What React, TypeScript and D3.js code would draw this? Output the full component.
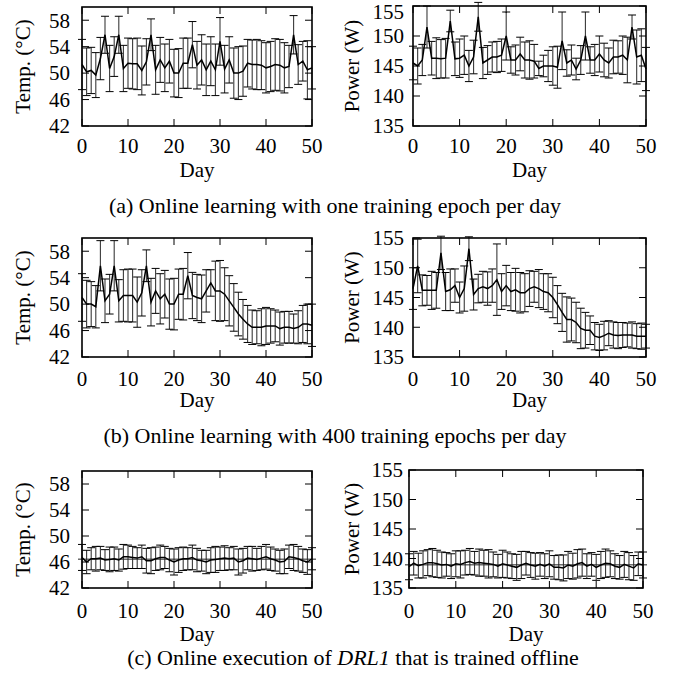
import { useEffect, useRef } from 'react';
import * as d3 from 'd3';

// tick labels
const tempTicks = [42, 46, 50, 54, 58];
const powerTicks = [135, 140, 145, 150, 155];
const dayTicks = [0, 10, 20, 30, 40, 50];

// (a) one training epoch per day, days 0..50
const aTempMean = [51.3, 50.2, 50.4, 49.7, 52.2, 55.8, 50.7, 52.5, 55.8, 50.7,
  51.5, 51.4, 51.4, 50.4, 51.7, 55.8, 50.5, 52.0, 50.8, 51.8,
  50.0, 50.0, 51.5, 51.5, 54.3, 51.2, 52.0, 50.5, 51.8, 50.5,
  54.8, 50.6, 52.0, 50.0, 50.0, 50.3, 51.5, 51.3, 51.3, 51.2,
  50.8, 51.0, 51.3, 51.2, 50.8, 51.0, 55.8, 51.3, 51.8, 50.5, 50.8];
const aTempErr = [3.8, 3.6, 3.5, 3.4, 3.2, 2.8, 3.5, 3.0, 2.8, 3.5,
  3.8, 3.8, 3.9, 3.7, 3.5, 2.4, 3.7, 3.4, 3.6, 3.3,
  3.6, 3.7, 3.8, 3.8, 3.5, 3.6, 3.8, 3.9, 3.7, 3.9,
  3.6, 3.6, 3.5, 3.8, 4.0, 3.8, 3.6, 3.7, 3.8, 3.7,
  3.8, 3.8, 3.9, 3.9, 3.8, 3.2, 2.9, 3.0, 3.0, 4.4, 3.2];
const aPowerMean = [145.5, 145.0, 146.0, 151.5, 146.3, 146.3, 146.2, 146.3, 152.5, 146.2,
  146.3, 146.8, 145.0, 146.5, 153.2, 145.5, 146.0, 146.5, 146.5, 146.8,
  150.0, 146.0, 146.0, 147.0, 146.0, 146.0, 145.8, 144.6, 145.0, 145.0,
  145.0, 144.8, 149.2, 145.5, 146.0, 144.5, 146.0, 150.0, 146.0, 146.0,
  147.0, 146.0, 145.5, 146.5, 146.5, 146.8, 146.0, 151.5, 146.5, 146.8, 144.5];
const aPowerErr = [2.8, 3.0, 2.6, 3.5, 2.8, 3.4, 3.2, 3.3, 1.8, 2.8,
  3.2, 3.2, 2.6, 2.8, 2.4, 2.6, 2.4, 2.5, 2.6, 2.7,
  4.0, 2.2, 2.5, 2.8, 3.0, 3.2, 2.8, 1.2, 1.8, 2.6,
  3.2, 3.5, 4.8, 2.2, 2.5, 1.8, 2.4, 4.0, 2.2, 2.6,
  3.0, 2.8, 2.5, 2.8, 2.7, 3.2, 3.8, 2.0, 4.5, 4.4, 3.6];

// (b) 400 training epochs per day
const bTempMean = [51.0, 50.0, 50.0, 49.6, 55.8, 50.5, 51.5, 55.8, 50.5, 51.3,
  51.3, 51.3, 50.3, 51.7, 55.8, 50.3, 52.0, 50.8, 51.5, 50.0,
  50.0, 51.5, 51.5, 54.3, 51.3, 51.0, 50.8, 52.0, 53.2, 52.0,
  52.0, 51.5, 50.5, 49.5, 48.5, 47.7, 47.0, 46.5, 46.5, 46.5,
  46.7, 46.7, 46.7, 46.3, 46.5, 46.5, 46.3, 46.5, 47.0, 47.0, 46.8];
const bTempErr = [3.6, 3.6, 3.4, 3.2, 3.8, 3.3, 3.0, 3.8, 3.2, 3.9,
  4.0, 4.0, 3.8, 3.5, 2.4, 3.6, 3.4, 3.8, 3.6, 3.8,
  3.9, 3.8, 3.9, 3.5, 3.5, 3.5, 3.6, 3.2, 2.0, 4.5,
  4.6, 4.0, 3.8, 3.6, 3.3, 3.0, 2.8, 2.6, 2.5, 2.8,
  2.8, 2.6, 2.4, 2.5, 2.4, 2.4, 2.2, 2.5, 2.8, 3.0, 3.2];
const bPowerMean = [146.5, 150.3, 146.2, 146.2, 146.2, 146.2, 152.5, 146.0, 146.3, 147.0,
  145.0, 146.5, 153.2, 145.5, 146.5, 146.8, 146.5, 147.0, 148.0, 146.0,
  147.0, 146.0, 146.3, 145.8, 145.8, 146.5, 146.8, 146.5, 146.0, 145.8,
  145.0, 143.8, 142.5, 141.3, 141.3, 140.8, 139.8, 139.5, 139.5, 138.5,
  138.3, 138.6, 139.0, 138.7, 138.6, 138.7, 138.7, 138.7, 138.5, 138.5, 138.5];
const bPowerErr = [3.5, 4.5, 2.6, 2.5, 3.2, 3.0, 2.8, 3.2, 3.5, 2.8,
  2.6, 3.8, 2.0, 2.6, 2.4, 2.6, 2.8, 2.8, 6.0, 3.0,
  3.4, 3.2, 3.6, 3.4, 3.2, 3.0, 2.6, 3.2, 3.0, 3.2,
  3.4, 3.2, 3.2, 3.8, 3.6, 3.4, 3.4, 3.0, 2.4, 2.3,
  2.2, 2.4, 2.1, 2.2, 2.2, 2.1, 2.0, 2.2, 2.1, 2.2, 2.0];

// (c) DRL1 trained offline
const cTempMean = [46.7, 46.0, 46.5, 46.5, 46.6, 46.3, 46.4, 46.5, 46.3, 46.8,
  46.8, 46.7, 46.6, 46.8, 46.2, 46.2, 46.5, 46.7, 46.7, 46.3,
  46.0, 46.3, 46.5, 46.5, 46.7, 46.3, 46.2, 46.0, 46.3, 46.4,
  46.5, 46.6, 46.5, 46.6, 46.0, 46.2, 46.6, 46.5, 46.4, 46.6,
  46.8, 46.5, 46.3, 46.0, 46.1, 46.8, 46.7, 46.5, 46.2, 46.0, 46.5];
const cTempErr = [2.0, 1.8, 1.7, 1.9, 1.8, 1.6, 1.9, 1.8, 1.7, 1.9,
  1.8, 1.7, 1.6, 1.8, 1.9, 2.0, 1.8, 1.9, 1.7, 1.8,
  2.0, 1.9, 1.8, 1.7, 1.9, 1.8, 1.6, 1.8, 1.9, 2.0,
  1.8, 1.9, 1.7, 1.8, 2.0, 1.9, 1.8, 1.9, 1.7, 1.8,
  1.9, 1.8, 1.7, 1.8, 1.9, 1.8, 2.0, 1.9, 1.8, 1.9, 1.7];
const cPowerMean = [138.6, 139.2, 138.8, 139.0, 139.3, 139.3, 139.1, 138.9, 139.0, 138.7,
  139.1, 139.0, 139.3, 139.5, 139.2, 139.3, 139.2, 139.1, 139.0, 138.7,
  139.1, 138.9, 138.7, 138.5, 138.9, 139.2, 138.9, 138.7, 139.0, 138.7,
  139.1, 138.5, 138.5, 138.4, 138.9, 138.7, 139.1, 139.3, 138.7, 139.0,
  138.5, 138.9, 139.2, 139.1, 138.7, 138.5, 139.0, 138.7, 138.4, 139.1, 138.9];
const cPowerErr = [2.2, 2.0, 2.1, 2.3, 2.2, 2.4, 2.3, 2.2, 2.0, 2.1,
  2.2, 2.3, 2.1, 2.2, 2.0, 2.3, 2.2, 2.4, 2.1, 2.0,
  2.3, 2.2, 2.1, 2.2, 2.3, 2.0, 2.1, 2.2, 2.0, 2.1,
  2.2, 2.0, 2.1, 2.2, 2.3, 2.2, 2.4, 2.3, 2.1, 2.0,
  2.2, 2.3, 2.4, 2.2, 2.1, 2.0, 2.2, 2.3, 2.1, 2.0, 2.2];

const captions = [
  { pre: '(a) Online learning with one training epoch per day', it: '', post: '', x: 335, y: 213 },
  { pre: '(b) Online learning with 400 training epochs per day', it: '', post: '', x: 335, y: 443 },
  { pre: '(c) Online execution of ', it: 'DRL1', post: ' that is trained offline', x: 353, y: 665 },
];

const panels = [
  { mean: aTempMean, err: aTempErr, domain: [42, 60], ticks: tempTicks, label: 'Temp. (°C)', box: [82, 312, 7, 126], labelX: 23, tickGap: 12, xTickY: 153, dayY: 177, ref: false },
  { mean: aPowerMean, err: aPowerErr, domain: [135, 155], ticks: powerTicks, label: 'Power (W)', box: [413, 646, 6, 126], labelX: 352, tickGap: 9, xTickY: 153, dayY: 177, ref: false },
  { mean: bTempMean, err: bTempErr, domain: [42, 60], ticks: tempTicks, label: 'Temp. (°C)', box: [82, 312, 238, 357], labelX: 23, tickGap: 12, xTickY: 386, dayY: 407, ref: false },
  { mean: bPowerMean, err: bPowerErr, domain: [135, 155], ticks: powerTicks, label: 'Power (W)', box: [413, 646, 238, 357], labelX: 352, tickGap: 9, xTickY: 386, dayY: 407, ref: false },
  { mean: cTempMean, err: cTempErr, domain: [42, 60], ticks: tempTicks, label: 'Temp. (°C)', box: [82, 312, 471, 588], labelX: 23, tickGap: 12, xTickY: 618, dayY: 641, ref: true },
  { mean: cPowerMean, err: cPowerErr, domain: [135, 155], ticks: powerTicks, label: 'Power (W)', box: [409, 643, 470, 588], labelX: 352, tickGap: 6, xTickY: 618, dayY: 641, ref: true },
];

const FONT = '"Liberation Serif", "DejaVu Serif", serif';

export default function App() {
  const ref = useRef<SVGSVGElement>(null);

  useEffect(() => {
    const svg = d3.select(ref.current);
    svg.selectAll('*').remove();

    panels.forEach(p => {
      const [left, right, top, bottom] = p.box;
      const x = d3.scaleLinear().domain([0, 50]).range([left, right]);
      const y = d3.scaleLinear().domain(p.domain).range([bottom, top]);
      const g = svg.append('g');

      // barras de error
      const bars = g.append('g');
      p.mean.forEach((m, i) => {
        const cx = x(i);
        const hi = y(m + p.err[i]);
        const lo = y(m - p.err[i]);
        bars.append('line').attr('x1', cx).attr('x2', cx).attr('y1', hi).attr('y2', lo)
          .attr('stroke', '#3a3a3a').attr('stroke-width', 1.1);
        bars.append('line').attr('x1', cx - 4).attr('x2', cx + 4).attr('y1', hi).attr('y2', hi)
          .attr('stroke', '#000').attr('stroke-width', 1);
        bars.append('line').attr('x1', cx - 4).attr('x2', cx + 4).attr('y1', lo).attr('y2', lo)
          .attr('stroke', '#000').attr('stroke-width', 1);
      });

      if (p.ref) {
        const avg = d3.mean(p.mean) as number;
        g.append('line').attr('x1', left - 4).attr('x2', right + 4)
          .attr('y1', y(avg)).attr('y2', y(avg)).attr('stroke', '#222').attr('stroke-width', 1);
      }

      // línea de la media
      const line = d3.line<number>().x((_, i) => x(i)).y(d => y(d));
      g.append('path').datum(p.mean).attr('d', line).attr('fill', 'none')
        .attr('stroke', '#000').attr('stroke-width', 1.5);

      // marco
      g.append('rect').attr('x', left).attr('y', top).attr('width', right - left).attr('height', bottom - top)
        .attr('fill', 'none').attr('stroke', '#000').attr('stroke-width', 1.6);

      // ticks
      const tk = 7;
      dayTicks.forEach(d => {
        g.append('line').attr('x1', x(d)).attr('x2', x(d)).attr('y1', bottom).attr('y2', bottom - tk).attr('stroke', '#000');
        g.append('line').attr('x1', x(d)).attr('x2', x(d)).attr('y1', top).attr('y2', top + tk).attr('stroke', '#000');
        g.append('text').attr('x', x(d)).attr('y', p.xTickY).attr('text-anchor', 'middle')
          .attr('font-family', FONT).attr('font-size', 21).text(d);
      });
      p.ticks.forEach(t => {
        g.append('line').attr('x1', left).attr('x2', left + tk).attr('y1', y(t)).attr('y2', y(t)).attr('stroke', '#000');
        g.append('line').attr('x1', right).attr('x2', right - tk).attr('y1', y(t)).attr('y2', y(t)).attr('stroke', '#000');
        g.append('text').attr('x', left - p.tickGap).attr('y', Math.max(y(t), 12)).attr('dy', '0.35em').attr('text-anchor', 'end')
          .attr('font-family', FONT).attr('font-size', 21).text(t);
      });

      g.append('text').attr('x', (left + right) / 2).attr('y', p.dayY).attr('text-anchor', 'middle')
        .attr('font-family', FONT).attr('font-size', 21).text('Day');
      g.append('text').attr('transform', `translate(${p.labelX},${(top + bottom) / 2}) rotate(-90)`)
        .attr('dy', '0.35em').attr('text-anchor', 'middle')
        .attr('font-family', FONT).attr('font-size', 21).text(p.label);
    });

    captions.forEach(c => {
      const t = svg.append('text').attr('x', c.x).attr('y', c.y).attr('text-anchor', 'middle')
        .attr('font-family', FONT).attr('font-size', 22);
      t.append('tspan').text(c.pre);
      if (c.it) t.append('tspan').attr('font-style', 'italic').text(c.it);
      if (c.post) t.append('tspan').text(c.post);
    });
  }, []);

  return (
    <div style={{ position: 'absolute', left: 0, top: 0 }}>
      <svg ref={ref} width={673} height={682} style={{ display: 'block', background: '#fff' }} />
    </div>
  );
}
